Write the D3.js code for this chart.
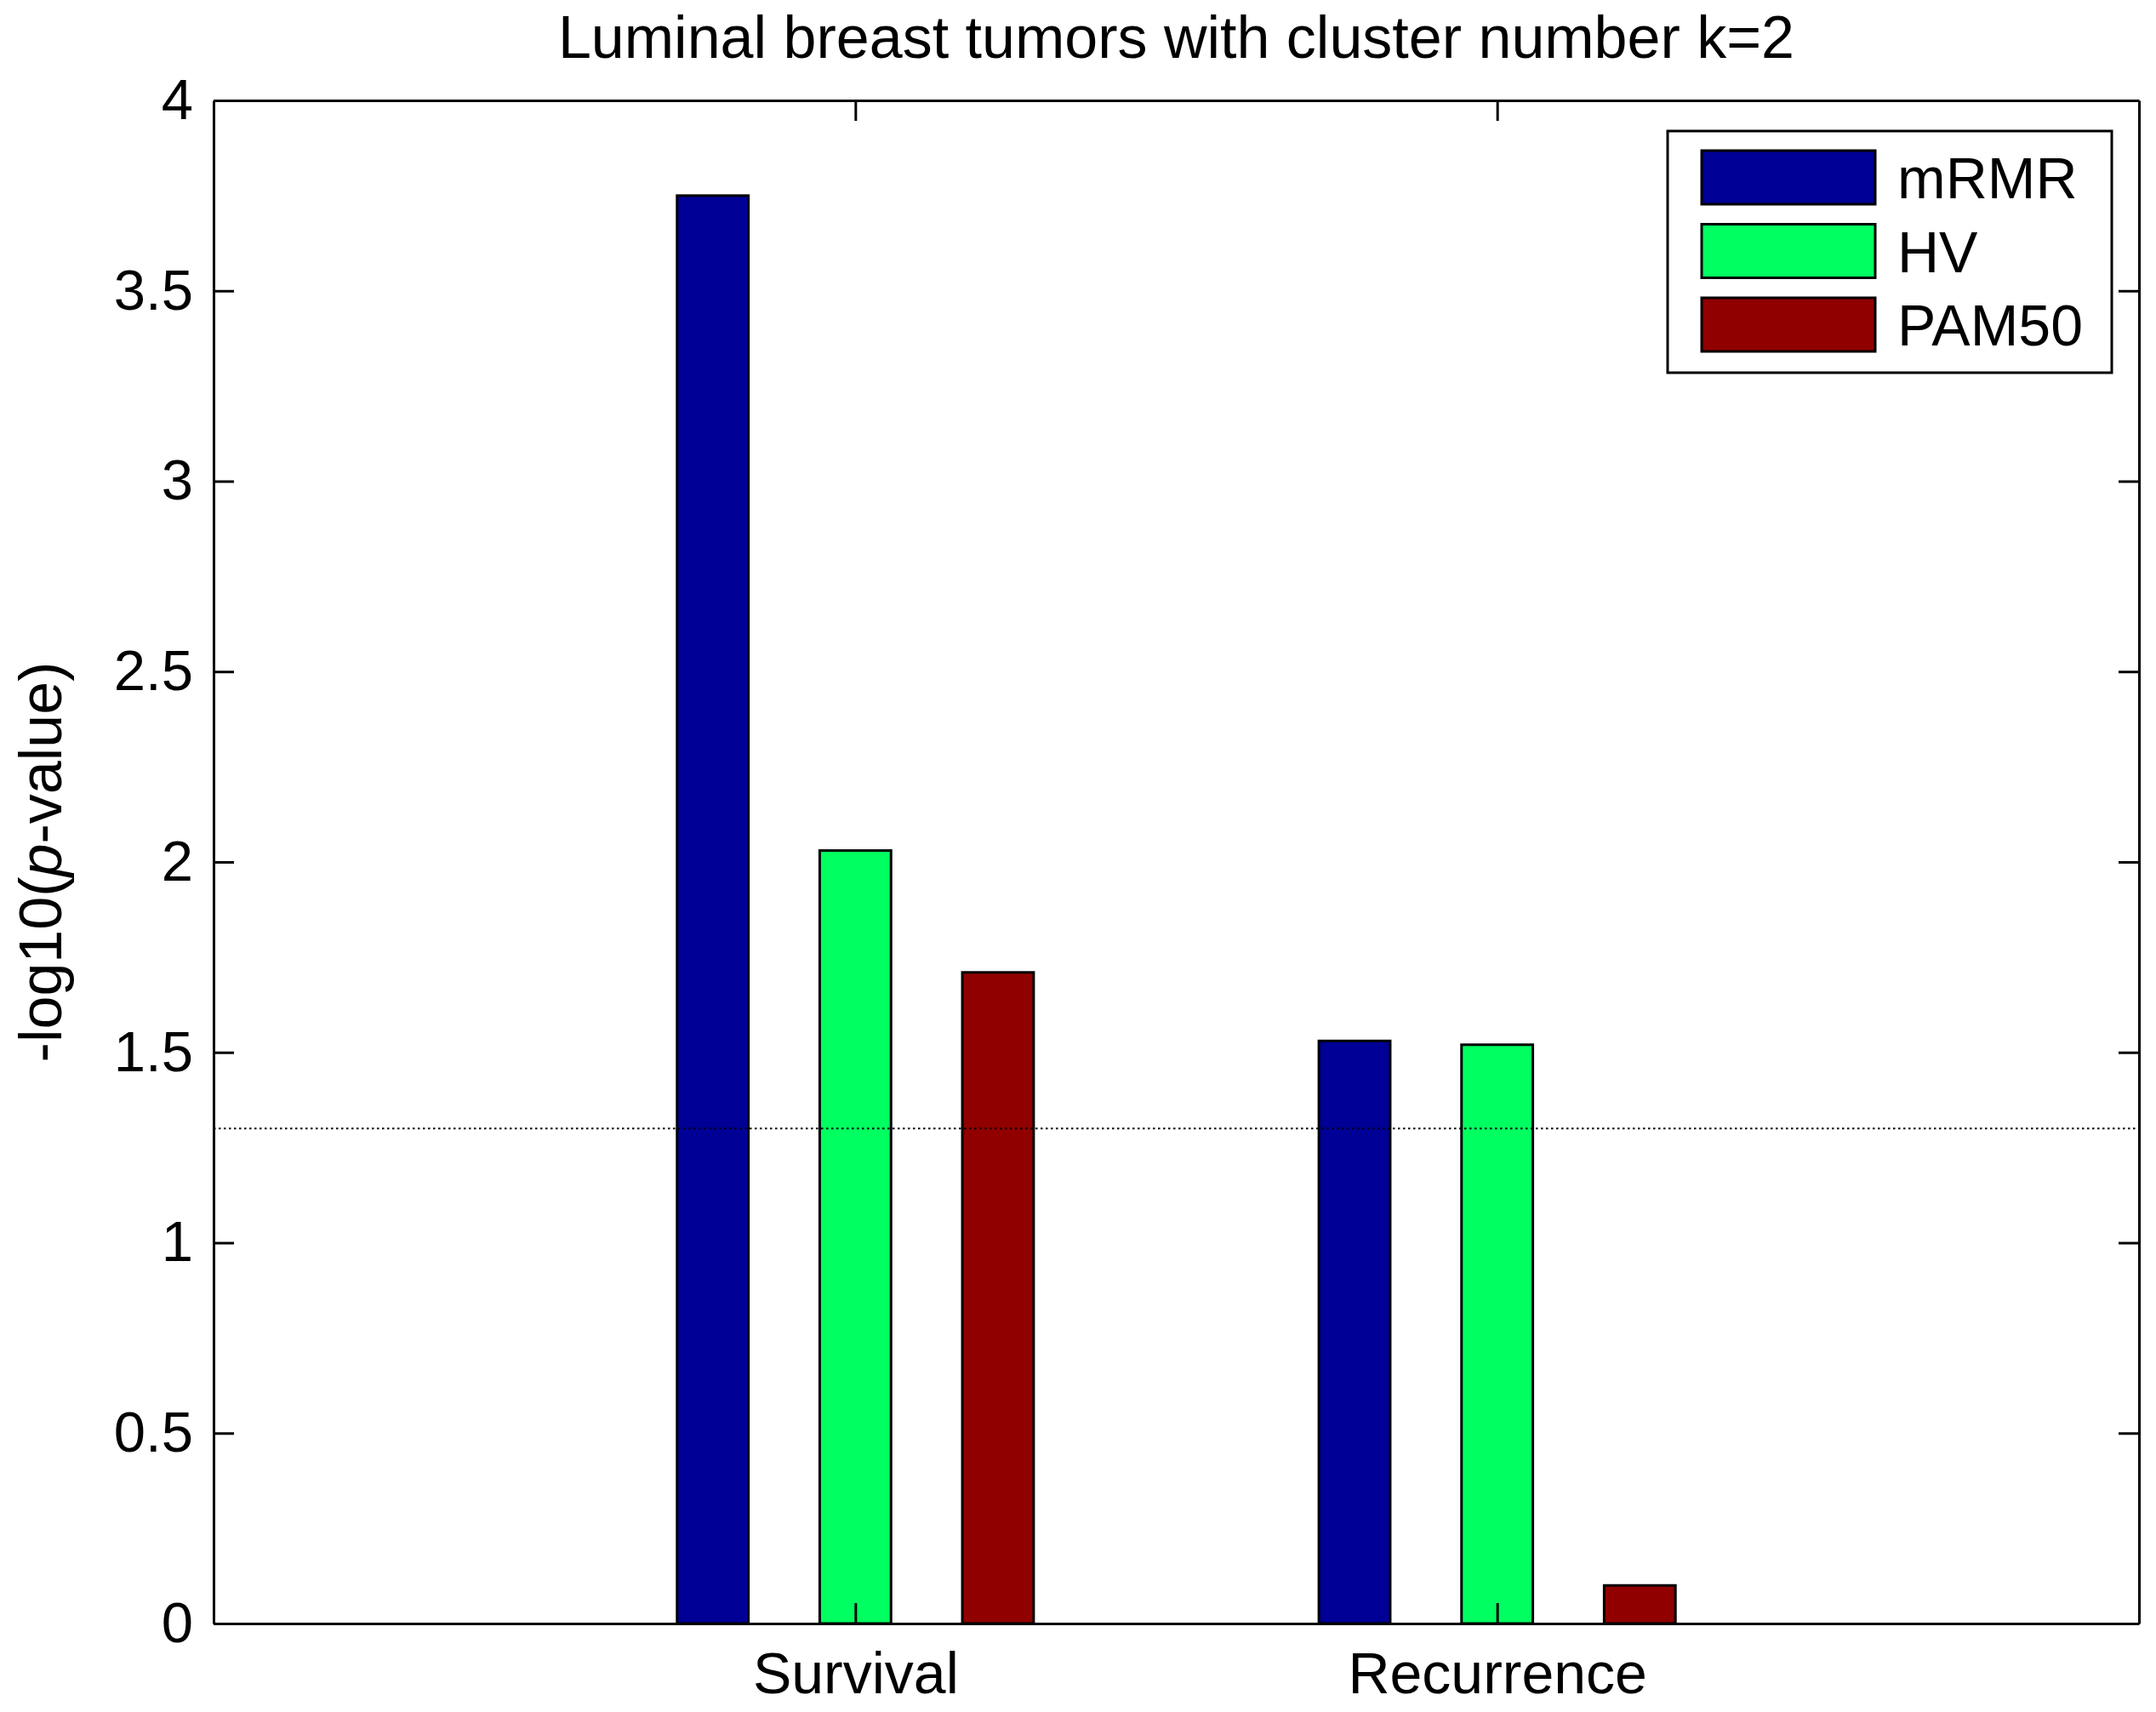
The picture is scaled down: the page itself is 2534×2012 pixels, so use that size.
<!DOCTYPE html>
<html>
<head>
<meta charset="utf-8">
<script src="https://cdn.jsdelivr.net/npm/d3@7"></script>
<style>
  body { margin: 0; background: #fff; }
  svg { display: block; }
  text { font-family: Arial, "Liberation Sans", sans-serif; fill: #000; }
</style>
</head>
<body>
<svg id="chart"></svg>
<script>
// data
let categories = ['Survival', 'Recurrence'];
let seriesNames = ['mRMR', 'HV', 'PAM50'];
let mrmrValues = [3.75, 1.53];
let hvValues = [2.03, 1.52];
let pam50Values = [1.71, 0.10];
let yTicks = [0, 0.5, 1, 1.5, 2, 2.5, 3, 3.5, 4];
let threshold = 1.3; // -log10(0.05)

let seriesColors = ['#000096', '#00FF60', '#900000'];

let width = 2534;
let height = 2012;
let margin = { top: 118, right: 20, bottom: 104, left: 251 };

let svg = d3.select('#chart')
    .attr('width', width)
    .attr('height', height);

let values = [mrmrValues, hvValues, pam50Values];

// x: categories at 1 and 2 on a [0, 3] range
let xScale = d3.scalePoint()
    .domain(categories)
    .range([margin.left, width - margin.right])
    .padding(1);

let unit = xScale.step();

// bars of one group: slot = 2/3 unit / 3, bar is half of a slot
let xInner = d3.scaleBand()
    .domain(seriesNames)
    .range([-unit / 3, unit / 3])
    .paddingInner(0.5)
    .paddingOuter(0.25);

let yScale = d3.scaleLinear()
    .domain([0, 4])
    .range([height - margin.bottom, margin.top]);

let fmt = d3.format('');

let drawBars = () => {
    let groups = svg.append('g')
        .selectAll('g')
        .data(seriesNames)
        .join('g')
        .attr('fill', (d, i) => seriesColors[i]);

    groups.selectAll('rect')
        .data((d, i) => categories.map((c, j) => ({ cat: c, name: d, v: values[i][j] })))
        .join('rect')
        .attr('x', d => xScale(d.cat) + xInner(d.name))
        .attr('width', xInner.bandwidth())
        .attr('y', d => yScale(d.v))
        .attr('height', d => yScale(0) - yScale(d.v))
        .attr('stroke', '#000')
        .attr('stroke-width', 3);
}

let drawThreshold = () => {
    svg.append('line')
        .attr('x1', margin.left)
        .attr('x2', width - margin.right)
        .attr('y1', yScale(threshold))
        .attr('y2', yScale(threshold))
        .attr('stroke', '#000')
        .attr('stroke-width', 2)
        .attr('stroke-dasharray', '2.5,3.5');
}

let generateAxes = () => {
    let tickLen = 24;
    let style = (g) => {
        g.select('.domain').attr('stroke', '#000').attr('stroke-width', 3);
        g.selectAll('.tick line').attr('stroke', '#000').attr('stroke-width', 3);
        g.selectAll('text').attr('font-size', 67).attr('font-family', 'Arial, "Liberation Sans", sans-serif');
    }

    svg.append('g')
        .attr('transform', `translate(0,${height - margin.bottom})`)
        .call(d3.axisBottom(xScale).tickSizeInner(-tickLen).tickSizeOuter(0).tickPadding(34))
        .call(style)
        .call(g => g.selectAll('text').attr('font-size', 68));

    svg.append('g')
        .attr('transform', `translate(0,${margin.top})`)
        .call(d3.axisTop(xScale).tickSizeInner(-tickLen).tickSizeOuter(0).tickFormat(''))
        .call(style);

    svg.append('g')
        .attr('transform', `translate(${margin.left},0)`)
        .call(d3.axisLeft(yScale).tickValues(yTicks).tickFormat(fmt).tickSizeInner(-tickLen).tickSizeOuter(0).tickPadding(24))
        .call(style);

    svg.append('g')
        .attr('transform', `translate(${width - margin.right},0)`)
        .call(d3.axisRight(yScale).tickValues(yTicks).tickSizeInner(-tickLen).tickSizeOuter(0).tickFormat(''))
        .call(style);
}

let drawLabels = () => {
    svg.append('text')
        .attr('x', (margin.left + width - margin.right) / 2)
        .attr('y', 68)
        .attr('text-anchor', 'middle')
        .attr('font-size', 70)
        .text('Luminal breast tumors with cluster number k=2');

    let yl = svg.append('text')
        .attr('transform', `translate(72,${(yScale(0) + yScale(4)) / 2}) rotate(-90)`)
        .attr('text-anchor', 'middle')
        .attr('font-size', 70);
    yl.append('tspan').text('-log10(');
    yl.append('tspan').attr('font-style', 'italic').text('p');
    yl.append('tspan').text('-value)');
}

let drawLegend = () => {
    let lg = svg.append('g').attr('transform', 'translate(1960,154)');
    lg.append('rect')
        .attr('width', 522)
        .attr('height', 284)
        .attr('fill', '#fff')
        .attr('stroke', '#000')
        .attr('stroke-width', 3);

    let rows = lg.selectAll('g.row')
        .data(seriesNames)
        .join('g')
        .attr('class', 'row')
        .attr('transform', (d, i) => `translate(0,${23 + i * 86.5})`);

    rows.append('rect')
        .attr('x', 40)
        .attr('width', 204)
        .attr('height', 63)
        .attr('fill', (d, i) => seriesColors[i])
        .attr('stroke', '#000')
        .attr('stroke-width', 3);

    rows.append('text')
        .attr('x', 270)
        .attr('y', 56)
        .attr('font-size', 68)
        .text(d => d);
}

drawBars();
drawThreshold();
generateAxes();
drawLabels();
drawLegend();
</script>
</body>
</html>
